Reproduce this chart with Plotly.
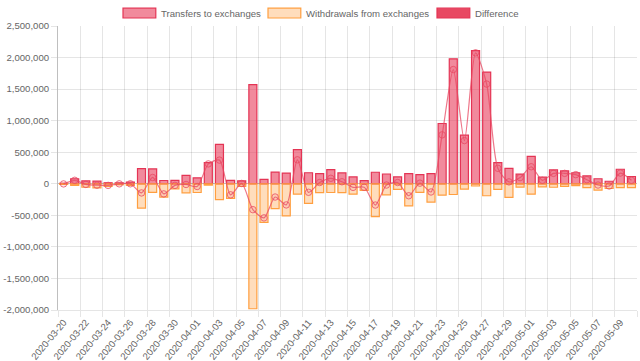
import plotly.graph_objects as go

dates = [
    "2020-03-20", "2020-03-21", "2020-03-22", "2020-03-23", "2020-03-24", "2020-03-25",
    "2020-03-26", "2020-03-27", "2020-03-28", "2020-03-29", "2020-03-30", "2020-03-31",
    "2020-04-01", "2020-04-02", "2020-04-03", "2020-04-04", "2020-04-05", "2020-04-06",
    "2020-04-07", "2020-04-08", "2020-04-09", "2020-04-10", "2020-04-11", "2020-04-12",
    "2020-04-13", "2020-04-14", "2020-04-15", "2020-04-16", "2020-04-17", "2020-04-18",
    "2020-04-19", "2020-04-20", "2020-04-21", "2020-04-22", "2020-04-23", "2020-04-24",
    "2020-04-25", "2020-04-26", "2020-04-27", "2020-04-28", "2020-04-29", "2020-04-30",
    "2020-05-01", "2020-05-02", "2020-05-03", "2020-05-04", "2020-05-05", "2020-05-06",
    "2020-05-07", "2020-05-08", "2020-05-09", "2020-05-10",
]

transfers = [
    8000, 80000, 45000, 42000, 16000, 15000, 26000, 240000, 235000, 52000,
    55000, 132000, 95000, 335000, 625000, 53000, 45000, 1570000, 70000, 185000,
    170000, 540000, 175000, 160000, 225000, 172000, 108000, 50000, 183000, 155000,
    110000, 160000, 145000, 160000, 955000, 1980000, 770000, 2110000, 1770000, 335000,
    245000, 152000, 435000, 105000, 220000, 205000, 175000, 125000, 80000, 40000,
    230000, 115000,
]

withdrawals = [
    -10000, -25000, -55000, -64000, -42000, -16000, -26000, -385000, -135000, -212000,
    -80000, -143000, -138000, -20000, -250000, -230000, -40000, -1980000, -610000, -395000,
    -510000, -165000, -310000, -140000, -138000, -140000, -165000, -106000, -520000, -175000,
    -90000, -350000, -135000, -290000, -180000, -170000, -85000, -35000, -190000, -90000,
    -215000, -54000, -165000, -50000, -55000, -40000, -30000, -60000, -100000, -75000,
    -60000, -60000,
]

difference = [
    -2000, 55000, -10000, -22000, -26000, -1000, 0, -145000, 100000, -160000,
    -25000, -11000, -43000, 315000, 375000, -175000, 5000, -410000, -540000, -210000,
    -335000, 380000, -135000, 20000, 87000, 32000, -57000, -56000, -337000, -20000,
    20000, -190000, 10000, -130000, 775000, 1810000, 685000, 2075000, 1580000, 245000,
    30000, 98000, 270000, 55000, 165000, 165000, 145000, 65000, -20000, -35000,
    170000, 55000,
]

y_tickvals = [-2000000, -1500000, -1000000, -500000, 0, 500000, 1000000, 1500000, 2000000, 2500000]
y_ticktext = ["-2,000,000", "-1,500,000", "-1,000,000", "-500,000", "0", "500,000",
              "1,000,000", "1,500,000", "2,000,000", "2,500,000"]

series_names = ["Transfers to exchanges", "Withdrawals from exchanges", "Difference"]

PINK_FILL = "rgba(232,60,90,0.6)"
PINK_LINE = "rgb(228,52,84)"
ORANGE_FILL = "rgba(255,159,64,0.35)"
ORANGE_LINE = "rgb(255,159,64)"
DIFF_FILL = "rgb(232,72,98)"
GRID = "rgba(0,0,0,0.1)"
TEXT = "#666666"
FONT = "Liberation Sans, Arial, sans-serif"
FS = 9.6

W, H = 640, 361
L, R, T, B = 58, 3, 26, 51
PW, PH = W - L - R, H - T - B

xs = list(range(len(dates)))

fig = go.Figure()
fig.add_trace(go.Bar(x=xs, y=transfers, name=series_names[0], width=0.72,
                     marker=dict(color=PINK_FILL, line=dict(color=PINK_LINE, width=1.2)),
                     showlegend=False))
fig.add_trace(go.Bar(x=xs, y=withdrawals, name=series_names[1], width=0.72,
                     marker=dict(color=ORANGE_FILL, line=dict(color=ORANGE_LINE, width=1.2)),
                     showlegend=False))
fig.add_trace(go.Scatter(x=xs, y=difference, name=series_names[2], mode="lines+markers",
                         line=dict(color="rgba(232,72,98,0.75)", width=1.2, shape="spline", smoothing=0.7),
                         marker=dict(size=6.5, color="rgba(232,72,98,0.12)",
                                     line=dict(color="rgba(232,72,98,0.75)", width=1)),
                         showlegend=False))

# manual legend (Chart.js style wide boxes)
def px_x(px):
    return (px - L) / PW

def px_y(py):
    return (H - B - py) / PH

legend_boxes = [(123, PINK_FILL, PINK_LINE), (268, ORANGE_FILL, ORANGE_LINE), (437, DIFF_FILL, PINK_LINE)]
shapes = []
annotations = []
for (bx, fill, line), name in zip(legend_boxes, series_names):
    shapes.append(dict(type="rect", xref="paper", yref="paper",
                       x0=px_x(bx), x1=px_x(bx + 32.8), y0=px_y(18), y1=px_y(8.2),
                       fillcolor=fill, line=dict(color=line, width=1.2)))
    annotations.append(dict(text=name, xref="paper", yref="paper", x=px_x(bx + 35.5), y=px_y(13.1),
                            xanchor="left", yanchor="middle", showarrow=False,
                            font=dict(family=FONT, size=FS, color=TEXT)))

tick_idx = xs[::2]
grid_vals = [i - 0.5 for i in xs[::2]] + [xs[-1] + 0.5]

fig.update_layout(
    width=W, height=H,
    margin=dict(l=L, r=R, t=T, b=B),
    paper_bgcolor="white", plot_bgcolor="white",
    barmode="relative",
    font=dict(family=FONT, size=FS, color=TEXT),
    shapes=shapes, annotations=annotations,
    showlegend=False,
    xaxis=dict(
        range=[-0.5, len(dates) - 0.5], automargin=False,
        tickmode="array", tickvals=tick_idx, ticktext=[dates[i] for i in tick_idx],
        tickangle=-50, ticks="", showgrid=False, zeroline=False,
        ticklabelstandoff=2,
        tickfont=dict(family=FONT, size=FS, color=TEXT),
        showline=True, linecolor=GRID, linewidth=1,
        minor=dict(tickmode="array", tickvals=grid_vals, showgrid=True, gridcolor=GRID,
                   gridwidth=1, ticks="outside", ticklen=6, tickcolor=GRID),
    ),
    yaxis=dict(
        range=[-2000000, 2500000], automargin=False,
        tickmode="array", tickvals=y_tickvals, ticktext=y_ticktext,
        showgrid=True, gridcolor=GRID, gridwidth=1,
        zeroline=True, zerolinecolor="rgba(0,0,0,0.25)", zerolinewidth=1,
        ticks="outside", ticklen=6, tickcolor=GRID,
        showline=True, linecolor="rgba(0,0,0,0.25)", linewidth=1,
        tickfont=dict(family=FONT, size=FS, color=TEXT),
    ),
)

fig.write_html("out.html", config={"displayModeBar": False, "staticPlot": True},
               post_script="document.body.style.margin='0';document.body.style.padding='0';")
